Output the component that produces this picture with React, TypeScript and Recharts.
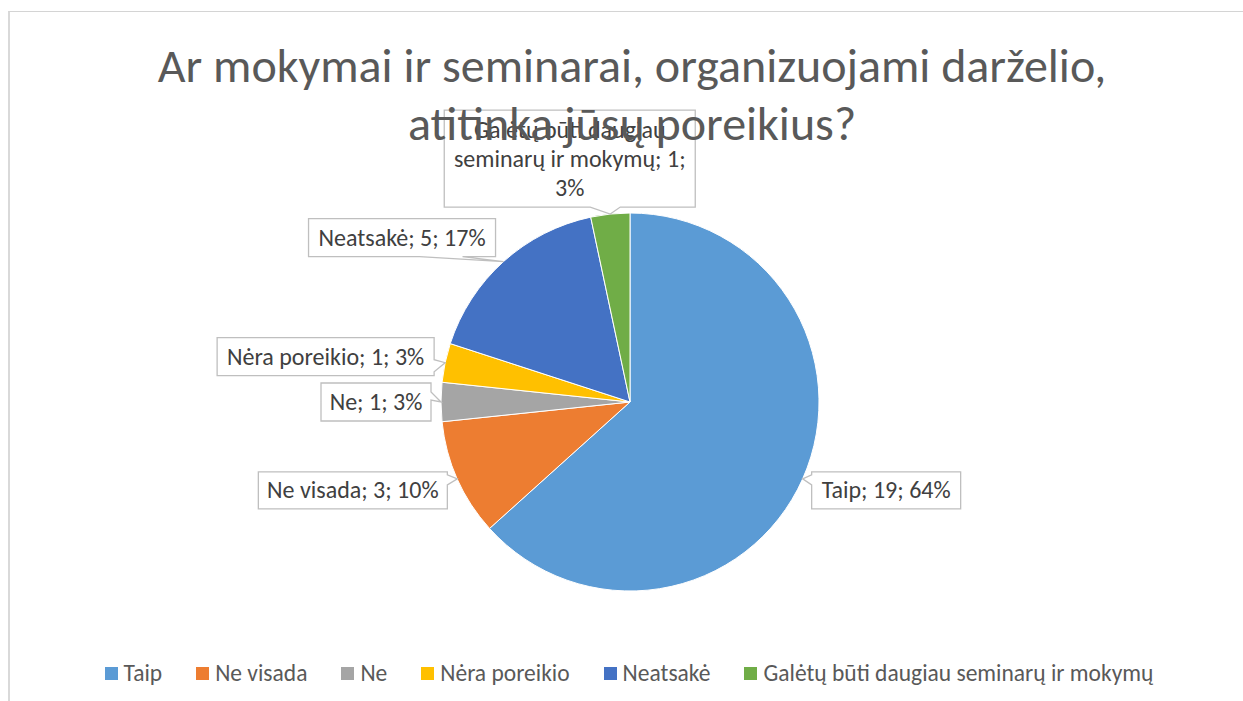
import { PieChart, Pie, Cell, Legend } from 'recharts';

const categories = [
  'Taip',
  'Ne visada',
  'Ne',
  'Nėra poreikio',
  'Neatsakė',
  'Galėtų būti daugiau seminarų ir mokymų',
];
const counts = [19, 3, 1, 1, 5, 1];
const sliceColors = ['#5B9BD5', '#ED7D31', '#A5A5A5', '#FFC000', '#4472C4', '#70AD47'];
const titleLines = ['Ar mokymai ir seminarai, organizuojami darželio,', 'atitinka jūsų poreikius?'];

const FONT = 'Carlito, Calibri, Lato, sans-serif';
const RAD = Math.PI / 180;

// Excel-style rounded percentages that add up to 100 (largest remainder)
const roundedPercents = (() => {
  const total = counts.reduce((a, b) => a + b, 0);
  const raw = counts.map((c) => (c / total) * 100);
  const out = raw.map((r) => Math.floor(r + 1e-9));
  let left = 100 - out.reduce((a, b) => a + b, 0);
  const order = raw
    .map((r, i) => ({ i, rem: Math.round((r - out[i]) * 1e6) / 1e6 }))
    .sort((a, b) => b.rem - a.rem || a.i - b.i);
  for (const o of order) {
    if (left <= 0) break;
    out[o.i] += 1;
    left -= 1;
  }
  return out;
})();

const data = categories.map((name, i) => ({ name, value: counts[i], pct: roundedPercents[i] }));

// callout boxes, placed relative to the slice's mid point on the rim
type Side = 'left' | 'right' | 'top' | 'bottom';
const calloutLayout: { dx: number; dy: number; w: number; h: number; side: Side; wedge: [number, number] }[] = [
  { dx: 9, dy: -7, w: 149, h: 37, side: 'left', wedge: [3, 13] },
  { dx: -199, dy: -7, w: 189, h: 37, side: 'right', wedge: [3, 13] },
  { dx: -120, dy: -19, w: 110, h: 38, side: 'right', wedge: [9, 17] },
  { dx: -228, dy: -25, w: 217, h: 38, side: 'right', wedge: [22, 34] },
  { dx: -195, dy: -43, w: 187, h: 38, side: 'bottom', wedge: [111, 154] },
  { dx: -166, dy: -104, w: 251, h: 97, side: 'bottom', wedge: [146, 176] },
];

const wrap = (text: string, maxChars: number) => {
  const words = text.split(' ');
  const lines: string[] = [];
  let cur = '';
  for (const w of words) {
    const next = cur ? cur + ' ' + w : w;
    if (next.length > maxChars && cur) {
      lines.push(cur);
      cur = w;
    } else cur = next;
  }
  if (cur) lines.push(cur);
  return lines;
};

const calloutPath = (
  x0: number, y0: number, x1: number, y1: number,
  side: Side, s1: number, s2: number, ax: number, ay: number,
) => {
  const p: [number, number][] = [[x0, y0]];
  if (side === 'top') p.push([x0 + s1, y0], [ax, ay], [x0 + s2, y0]);
  p.push([x1, y0]);
  if (side === 'right') p.push([x1, y0 + s1], [ax, ay], [x1, y0 + s2]);
  p.push([x1, y1]);
  if (side === 'bottom') p.push([x0 + s2, y1], [ax, ay], [x0 + s1, y1]);
  p.push([x0, y1]);
  if (side === 'left') p.push([x0, y0 + s2], [ax, ay], [x0, y0 + s1]);
  return 'M' + p.map((q) => q.join(',')).join('L') + 'Z';
};

const renderCallout = (props: any) => {
  const { cx, cy, midAngle, outerRadius, index } = props;
  const item = data[index];
  const lay = calloutLayout[index];
  const ax = cx + outerRadius * Math.cos(-midAngle * RAD);
  const ay = cy + outerRadius * Math.sin(-midAngle * RAD);
  const x0 = ax + lay.dx;
  const y0 = ay + lay.dy;
  const x1 = x0 + lay.w;
  const y1 = y0 + lay.h;
  const lines = wrap(`${item.name}; ${item.value}; ${item.pct}%`, 22);
  const midY = y0 + lay.h / 2;
  return (
    <g key={`callout-${index}`}>
      <path
        d={calloutPath(x0, y0, x1, y1, lay.side, lay.wedge[0], lay.wedge[1], ax, ay)}
        fill="#ffffff"
        stroke="#bfbfbf"
        strokeWidth={1.3}
      />
      {lines.map((ln, i) => (
        <text
          key={i}
          x={(x0 + x1) / 2}
          y={midY + (i - (lines.length - 1) / 2) * 29 + 8}
          textAnchor="middle"
          fill="#404040"
          fontSize={24}
          fontFamily={FONT}
        >
          {ln}
        </text>
      ))}
    </g>
  );
};

const renderLegend = () => (
  <div
    style={{
      display: 'flex',
      justifyContent: 'center',
      alignItems: 'center',
      fontFamily: FONT,
      fontSize: 23.5,
      color: '#595959',
    }}
  >
    {data.map((d, i) => (
      <div key={d.name} style={{ display: 'flex', alignItems: 'center', marginRight: i < data.length - 1 ? 34 : 0 }}>
        <span style={{ width: 13, height: 13, background: sliceColors[i], marginRight: 6, display: 'inline-block' }} />
        <span>{d.name}</span>
      </div>
    ))}
  </div>
);

export default function App() {
  return (
    <div style={{ position: 'absolute', left: 0, top: 0, width: 1243, height: 701, overflow: 'hidden', background: '#fff' }}>
      <div
        style={{
          position: 'absolute',
          left: 8,
          top: 11,
          width: 1300,
          height: 800,
          borderLeft: '2px solid #d9d9d9',
          borderTop: '1px solid #d4d4d4',
        }}
      />
      <div style={{ position: 'absolute', left: 0, top: 0 }}>
        <PieChart width={1243} height={701} margin={{ top: 0, right: 0, bottom: 0, left: 0 }}>
          <Pie
            data={data}
            dataKey="value"
            nameKey="name"
            cx={630}
            cy={402}
            outerRadius={189}
            startAngle={90}
            endAngle={-270}
            stroke="#ffffff"
            strokeWidth={1}
            labelLine={false}
            label={renderCallout}
            isAnimationActive={false}
          >
            {data.map((d, i) => (
              <Cell key={d.name} fill={sliceColors[i]} />
            ))}
          </Pie>
          <Legend
            content={renderLegend}
            wrapperStyle={{ position: 'absolute', left: 0, top: 659, width: 1258, height: 30 }}
          />
        </PieChart>
      </div>
      <svg
        width={1243}
        height={701}
        style={{ position: 'absolute', left: 0, top: 0, pointerEvents: 'none' }}
      >
        {titleLines.map((t, i) => (
          <text
            key={i}
            x={632}
            y={82 + i * 58}
            textAnchor="middle"
            fill="#595959"
            fontSize={48}
            fontFamily={FONT}
          >
            {t}
          </text>
        ))}
      </svg>
    </div>
  );
}
